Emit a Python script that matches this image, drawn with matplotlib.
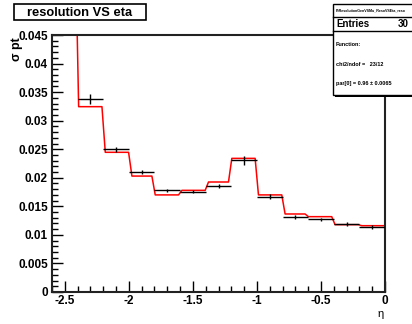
import numpy as np
import matplotlib
matplotlib.use("Agg")
import matplotlib.pyplot as plt
from matplotlib.patches import Rectangle
from matplotlib.ticker import MultipleLocator, FuncFormatter

plt.rcParams['font.family'] = ['Liberation Sans', 'DejaVu Sans']

# data: bins of width 0.2 in eta
bin_edges = [-2.6, -2.4, -2.2, -2.0, -1.8, -1.6, -1.4, -1.2, -1.0, -0.8, -0.6, -0.4, -0.2, 0.0]
sigma_pt = [0.065, 0.0338, 0.0250, 0.0210, 0.0178, 0.01757, 0.01856, 0.0231, 0.01669, 0.01313, 0.01273, 0.0119, 0.01138]
sigma_err = [0.002, 0.0009, 0.0004, 0.0004, 0.0003, 0.0003, 0.0004, 0.0008, 0.0004, 0.0003, 0.0003, 0.0003, 0.0003]
fit_values = [0.062, 0.03245, 0.02446, 0.0203, 0.0170, 0.0178, 0.01926, 0.0234, 0.0170, 0.01366, 0.01319, 0.01179, 0.01161]
x_ticks = [-2.5, -2.0, -1.5, -1.0, -0.5, 0.0]
y_ticks = [0, 0.005, 0.01, 0.015, 0.02, 0.025, 0.03, 0.035, 0.04, 0.045]

W, H = 412, 324
fig = plt.figure(figsize=(W / 100, H / 100), dpi=100)
L, R, T, B = 52, 385, 35, 292
ax = fig.add_axes([L / W, 1 - B / H, (R - L) / W, (B - T) / H])

edges = np.array(bin_edges)
centers = 0.5 * (edges[:-1] + edges[1:])
halfw = 0.5 * (edges[1:] - edges[:-1])

ax.errorbar(centers, sigma_pt, xerr=halfw, yerr=sigma_err, fmt='none',
            ecolor='black', elinewidth=1.0, capsize=0, zorder=3)

# fitted function sampled (ROOT-style, 100 segments)
xs = np.linspace(edges[0], edges[-1], 101)
idx = np.clip(np.searchsorted(edges, xs, side='right') - 1, 0, len(fit_values) - 1)
ys = np.array(fit_values)[idx]
ax.plot(xs, ys, color='#ff0000', lw=1.1, zorder=2)

ax.set_xlim(-2.6, 0.0)
ax.set_ylim(0, 0.045)
ax.set_xticks(x_ticks)
ax.set_yticks(y_ticks)
ax.xaxis.set_minor_locator(MultipleLocator(0.1))
ax.yaxis.set_minor_locator(MultipleLocator(0.001))
ax.yaxis.set_major_formatter(FuncFormatter(lambda v, p: '%g' % round(v, 4)))
ax.xaxis.set_major_formatter(FuncFormatter(lambda v, p: '%g' % round(v, 3)))
ax.tick_params(axis='both', which='major', direction='in', length=8, width=1,
               labelsize=8.5, top=False, right=False)
ax.tick_params(axis='both', which='minor', direction='in', length=4, width=1,
               top=False, right=False)
ax.tick_params(axis='x', which='major', pad=2.5)
ax.tick_params(axis='y', which='major', pad=3)
for lab in ax.get_xticklabels() + ax.get_yticklabels():
    lab.set_fontweight('bold')
for s in ax.spines.values():
    s.set_linewidth(1.5)
    s.set_color('#222222')

fig.text(17 / W, 1 - 49 / H, 'σ pt', rotation=90, ha='center', va='center',
         fontsize=9, fontweight='bold')
fig.text(381 / W, 1 - 314 / H, 'η', ha='center', va='center', fontsize=8)

# title box
fig.patches.append(Rectangle((14 / W, 1 - 20 / H), 132 / W, 16 / H, transform=fig.transFigure,
                             facecolor='white', edgecolor='black', lw=1.2, zorder=5))
fig.text(80 / W, 1 - 12.5 / H, 'resolution VS eta', ha='center', va='center',
         fontsize=9.3, fontweight='bold', zorder=6)

# stats box
bx0, bx1, by0, by1 = 333, 416, 4, 95
fig.patches.append(Rectangle(((bx0 + 2) / W, 1 - (by1 + 2) / H), (bx1 - bx0) / W, (by1 - by0) / H,
                             transform=fig.transFigure, facecolor='black', edgecolor='black', lw=0, zorder=5))
fig.patches.append(Rectangle((bx0 / W, 1 - by1 / H), (bx1 - bx0) / W, (by1 - by0) / H,
                             transform=fig.transFigure, facecolor='white', edgecolor='black', lw=1.0, zorder=6))
for yy in (17, 31):
    fig.add_artist(plt.Line2D([bx0 / W, bx1 / W], [1 - yy / H, 1 - yy / H],
                              transform=fig.transFigure, color='black', lw=1.0, zorder=7))
fig.text((bx0 + 3) / W, 1 - 10 / H, 'PtResolutionGenVSMu_ResoVSEta_reso',
         fontsize=2.6, fontweight='bold', va='center', zorder=8)
fig.text((bx0 + 3) / W, 1 - 24 / H, 'Entries', fontsize=7, fontweight='bold', va='center', zorder=8)
fig.text(398 / W, 1 - 24 / H, '30', fontsize=7, fontweight='bold', va='center', zorder=8)
fig.text((bx0 + 3) / W, 1 - 44 / H, 'Function:', fontsize=4, fontweight='bold', va='center', zorder=8)
fig.text((bx0 + 3) / W, 1 - 65 / H, 'chi2/ndof =   23/12', fontsize=4, fontweight='bold', va='center', zorder=8)
fig.text((bx0 + 3) / W, 1 - 84 / H, 'par[0] = 0.96 ± 0.0065', fontsize=4, fontweight='bold', va='center', zorder=8)

fig.savefig('out.png', dpi=100)
